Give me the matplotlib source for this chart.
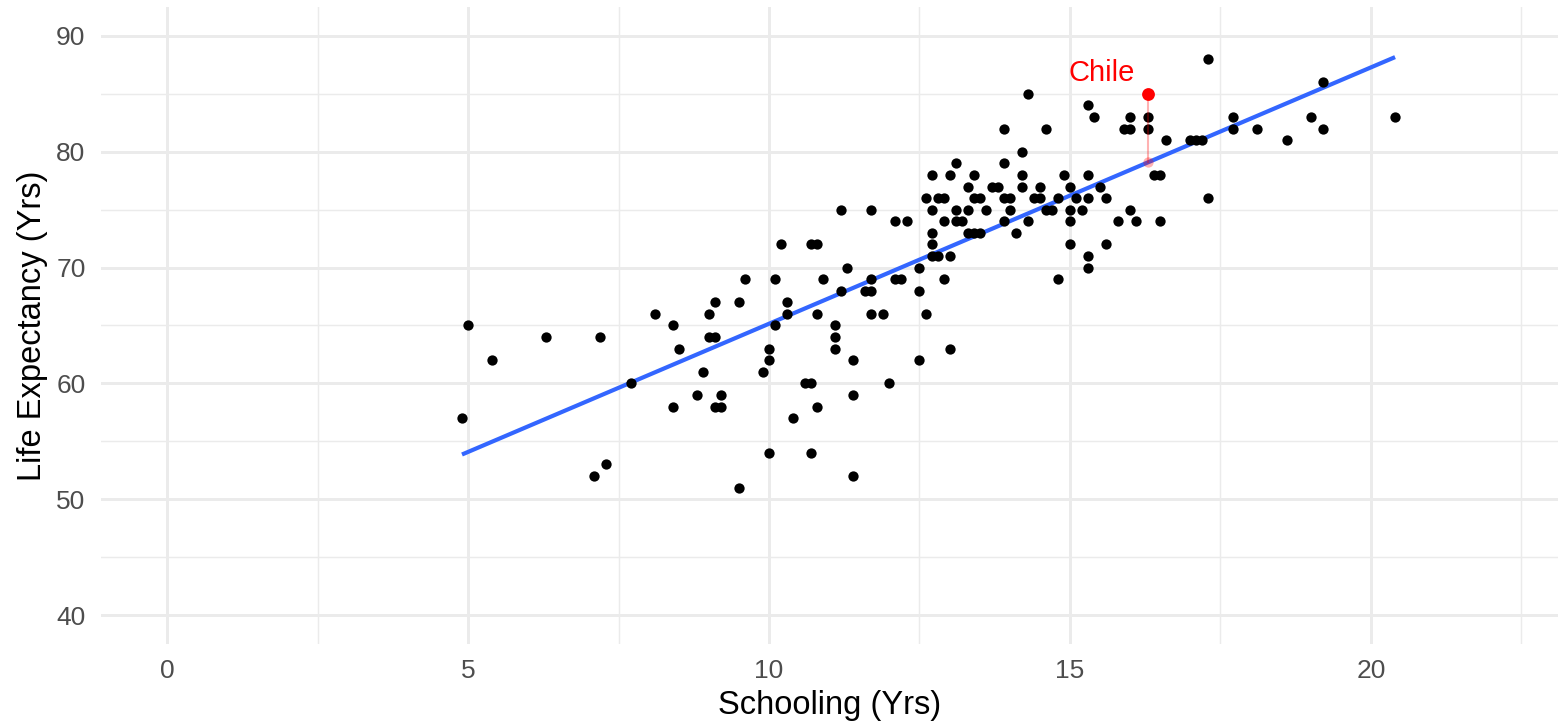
import numpy as np
import matplotlib
matplotlib.use("Agg")
import matplotlib.pyplot as plt
from matplotlib.ticker import MultipleLocator

plt.rcParams['font.family'] = ['Liberation Sans', 'DejaVu Sans']

# Data: schooling (years) and life expectancy (years)
schooling = [
    17.3,
    19.2,
    14.3, 16.3,
    15.3,
    15.4, 16.0, 16.3, 17.7, 19.0, 20.4,
    13.9, 14.6, 15.9, 16.0, 16.3, 17.7, 18.1, 19.2,
    16.6, 17.0, 17.1, 17.2, 18.6,
    14.2,
    13.1, 13.9,
    12.7, 13.0, 13.4, 14.2, 14.9, 15.3, 16.4, 16.5,
    13.3, 13.7, 13.8, 14.2, 14.5, 15.0, 15.5,
    12.6, 12.8, 12.9, 13.4, 13.5, 13.9, 14.0, 14.4, 14.5, 14.8, 15.1, 15.3, 15.6, 17.3,
    11.2, 11.7, 12.7, 13.1, 13.3, 13.6, 14.0, 14.6, 14.7, 15.0, 15.2, 16.0,
    12.1, 12.3, 12.9, 13.1, 13.2, 13.9, 14.3, 15.0, 15.8, 16.1, 16.5,
    12.7, 13.3, 13.4, 13.5, 14.1,
    10.2, 10.7, 10.8, 12.7, 15.0, 15.6,
    12.7, 12.8, 13.0, 15.3,
    11.3, 12.5, 15.3,
    9.6, 10.1, 10.9, 11.7, 12.1, 12.2, 12.9, 14.8,
    11.2, 11.6, 11.7, 12.5,
    9.1, 9.5, 10.3,
    8.1, 9.0, 10.3, 10.8, 11.7, 11.9, 12.6,
    5.0, 8.4, 10.1, 11.1,
    6.3, 7.2, 9.0, 9.1, 11.1,
    8.5, 10.0, 11.1, 13.0,
    5.4, 10.0, 11.4, 12.5,
    8.9, 9.9,
    7.7, 10.6, 10.7, 12.0,
    8.8, 9.2, 11.4,
    8.4, 9.1, 9.2, 10.8,
    4.9, 10.4,
    10.0, 10.7,
    7.3,
    7.1, 11.4,
    9.5,
]
life_expectancy = (
    [88] * 1 + [86] * 1 + [85] * 2 + [84] * 1 + [83] * 6 + [82] * 8 + [81] * 5
    + [80] * 1 + [79] * 2 + [78] * 8 + [77] * 7 + [76] * 14 + [75] * 12
    + [74] * 11 + [73] * 5 + [72] * 6 + [71] * 4 + [70] * 3 + [69] * 8
    + [68] * 4 + [67] * 3 + [66] * 7 + [65] * 4 + [64] * 5 + [63] * 4
    + [62] * 4 + [61] * 2 + [60] * 4 + [59] * 3 + [58] * 4 + [57] * 2
    + [54] * 2 + [53] * 1 + [52] * 2 + [51] * 1
)

highlight_name = "Chile"
highlight_x = 16.3
highlight_y = 85

x_ticks = [0, 5, 10, 15, 20]
y_ticks = [40, 50, 60, 70, 80, 90]

x = np.array(schooling)
y = np.array(life_expectancy)
slope, intercept = np.polyfit(x, y, 1)

W, H = 1561, 724
fig = plt.figure(figsize=(W / 100, H / 100), dpi=100)
left, right, top, bottom = 100.8, 1557.6, 7, 644
ax = fig.add_axes([left / W, 1 - bottom / H, (right - left) / W, (bottom - top) / H])

x_min, x_max = 0, 22
y_min, y_max = 40, 90
ax.set_xlim(x_min - 0.05 * (x_max - x_min), x_max + 0.05 * (x_max - x_min))
ax.set_ylim(y_min - 0.05 * (y_max - y_min), y_max + 0.05 * (y_max - y_min))

ax.set_xticks(x_ticks)
ax.set_yticks(y_ticks)
ax.xaxis.set_minor_locator(MultipleLocator(2.5))
ax.yaxis.set_minor_locator(MultipleLocator(5))
ax.grid(which='major', color='#EBEBEB', linewidth=2.1)
ax.grid(which='minor', color='#EBEBEB', linewidth=1.05)
ax.set_axisbelow(True)
for s in ax.spines.values():
    s.set_visible(False)
ax.tick_params(which='both', length=0)
ax.tick_params(axis='x', labelsize=19, labelcolor='#4D4D4D', pad=11)
ax.tick_params(axis='y', labelsize=19, labelcolor='#4D4D4D', pad=11)

# regression line
xl = np.array([x.min(), x.max()])
ax.plot(xl, intercept + slope * xl, color='#3366FF', linewidth=3.0, zorder=3,
        solid_capstyle='butt')

# points
ax.scatter(x, y, s=55, color='black', linewidths=0, zorder=4)

# highlight
fitted = intercept + slope * highlight_x
ax.plot([highlight_x, highlight_x], [highlight_y, fitted], color='red',
        alpha=0.3, linewidth=1.5, zorder=5)
ax.scatter([highlight_x], [fitted], s=55, color='red', alpha=0.3,
           linewidths=0, zorder=5)
ax.scatter([highlight_x], [highlight_y], s=85, color='red', linewidths=0,
           zorder=6)
ax.text(highlight_x - 0.78, highlight_y + 1.15, highlight_name, color='red',
        fontsize=21, ha='center', va='baseline', zorder=7)

ax.set_xlabel("Schooling (Yrs)", fontsize=23.5, color='black', labelpad=5)
ax.set_ylabel("Life Expectancy (Yrs)", fontsize=23.5, color='black', labelpad=6)

fig.savefig("out.png", dpi=100)
